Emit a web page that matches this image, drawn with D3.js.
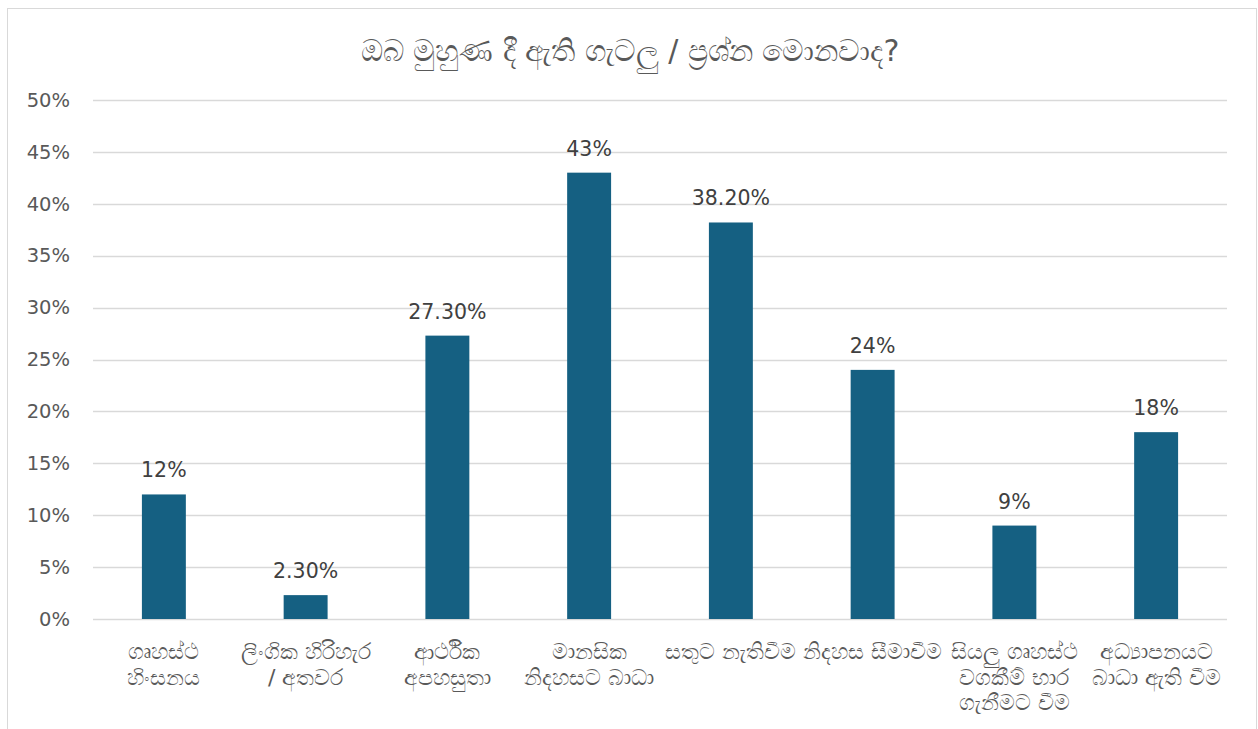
<!DOCTYPE html>
<meta charset="utf-8">
<style>
body { margin: 0; background: white; }
text { font-family: "DejaVu Sans", "Liberation Sans", Arial, sans-serif; }
</style>
<body>
<script src="https://d3js.org/d3.v7.min.js"></script>
<script>

// Size of the picture
const width = 1258
const height = 729

// Chart data
const title = 'ඔබ මුහුණ දී ඇති ගැටලු / ප්‍රශ්න මොනවාද?'
const categories = [
  'ගෘහස්ථ\nහිංසනය',
  'ලිංගික හිරිහැර\n/ අතවර',
  'ආර්ථික\nඅපහසුතා',
  'මානසික\nනිදහසට බාධා',
  'සතුට නැතිවීම',
  'නිදහස සීමාවීම',
  'සියලු ගෘහස්ථ\nවගකීම් භාර\nගැනීමට වීම',
  'අධ්‍යාපනයට\nබාධා ඇති වීම'
]
const values = [12, 2.3, 27.3, 43, 38.2, 24, 9, 18]
const valueLabels = ['12%', '2.30%', '27.30%', '43%', '38.20%', '24%', '9%', '18%']
const yTicks = [0, 5, 10, 15, 20, 25, 30, 35, 40, 45, 50]

const margin = { top: 100, right: 31, bottom: 110, left: 93 }

const svg = d3.select('body')
  .append('svg')
  .attr('width', width)
  .attr('height', height)

// chart border
svg.append('rect')
  .attr('x', 7.5)
  .attr('y', 8.5)
  .attr('width', 1249)
  .attr('height', 740)
  .attr('fill', 'white')
  .attr('stroke', '#d9d9d9')

const x = d3.scaleBand()
  .domain(d3.range(categories.length))
  .range([margin.left, width - margin.right])
  .paddingInner(0.69)
  .paddingOuter(0.345)

const y = d3.scaleLinear()
  .domain([0, 50])
  .range([height - margin.bottom, margin.top])

// title
svg.append('text')
  .attr('x', 630)
  .attr('y', 61)
  .attr('text-anchor', 'middle')
  .attr('font-size', 30)
  .attr('fill', '#595959')
  .text(title)

// grid lines
svg.append('g')
  .selectAll('line')
  .data(yTicks)
  .join('line')
  .attr('x1', margin.left)
  .attr('x2', width - margin.right)
  .attr('y1', d => Math.round(y(d)) + 0.5)
  .attr('y2', d => Math.round(y(d)) + 0.5)
  .attr('stroke', '#d9d9d9')
  .attr('stroke-width', 1.3)

// y axis labels
const yAxis = svg.append('g')
  .attr('transform', `translate(${margin.left - 23},0)`)
  .call(d3.axisLeft(y).tickValues(yTicks).tickFormat(d => d + '%').tickSize(0).tickPadding(0))
yAxis.select('.domain').remove()
yAxis.selectAll('text')
  .attr('font-size', 19.5)
  .attr('font-family', '"DejaVu Sans", sans-serif')
  .attr('fill', '#595959')

// bars
svg.append('g')
  .selectAll('rect')
  .data(values)
  .join('rect')
  .attr('x', (d, i) => x(i))
  .attr('y', d => y(d))
  .attr('width', x.bandwidth())
  .attr('height', d => y(0) - y(d))
  .attr('fill', '#156082')

// value labels
svg.append('g')
  .selectAll('text')
  .data(values)
  .join('text')
  .attr('x', (d, i) => x(i) + x.bandwidth() / 2)
  .attr('y', d => y(d) - 17)
  .attr('text-anchor', 'middle')
  .attr('font-size', 20.5)
  .attr('fill', '#404040')
  .text((d, i) => valueLabels[i])

// category labels
const catG = svg.append('g')
  .selectAll('text')
  .data(categories)
  .join('text')
  .attr('x', (d, i) => x(i) + x.bandwidth() / 2)
  .attr('y', 659)
  .attr('text-anchor', 'middle')
  .attr('font-size', 22)
  .attr('fill', '#595959')

catG.each(function (d) {
  const t = d3.select(this)
  d.split('\n').forEach((line, k) => {
    t.append('tspan')
      .attr('x', t.attr('x'))
      .attr('dy', k === 0 ? 0 : 25.5)
      .text(line)
  })
})

</script>
</body>
</html>
